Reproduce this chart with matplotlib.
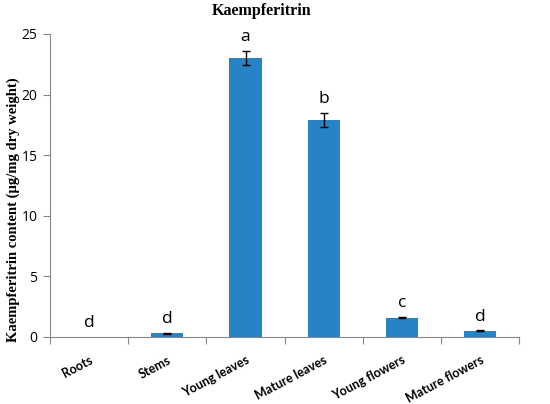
import numpy as np
import matplotlib.pyplot as plt

# data
tissues = ['Roots', 'Stems', 'Young leaves', 'Mature leaves', 'Young flowers', 'Mature flowers']
content = [0.0, 0.3, 23.0, 17.9, 1.6, 0.5]
err = [0.0, 0.03, 0.6, 0.6, 0.05, 0.04]
letters = ['d', 'd', 'a', 'b', 'c', 'd']

fig = plt.figure(figsize=(5.5, 4.04), dpi=100)
ax = fig.add_axes([0.091, 0.166, 0.853, 0.75])

x = np.arange(len(tissues))
ax.bar(x, content, width=0.41, color='#2683c6', zorder=2)
# roots have no measurable content, so no error bar drawn there
has_err = [e > 0 for e in err]
ax.errorbar(x[has_err], np.array(content)[has_err], yerr=np.array(err)[has_err],
            fmt='none', ecolor='black', elinewidth=1.0,
            capsize=3, capthick=1.0, zorder=3)

# significance letters above the error bars
for xi, v, e, l in zip(x, content, err, letters):
    ax.text(xi, v + e + 0.45, l, ha='center', va='bottom', fontsize=12.5,
            family='Open Sans')

ax.set_xlim(-0.5, len(tissues) - 0.5)
ax.set_ylim(0, 25)
ax.set_yticks([0, 5, 10, 15, 20, 25])

# x ticks between categories, labels at centers
ax.set_xticks(np.arange(-0.5, len(tissues)), minor=False)
ax.set_xticklabels([])
ax.set_xticks(x, minor=True)
ax.set_xticklabels(tissues, minor=True, rotation=28, ha='right', va='top',
                   rotation_mode='anchor', fontsize=9, fontweight='bold',
                   family='Lato')
ax.tick_params(axis='x', which='minor', length=0, pad=12)
ax.tick_params(axis='x', which='major', length=5, color='#888888', direction='out')
ax.tick_params(axis='y', length=5, color='#888888', labelsize=10, pad=4)
for lab in ax.get_yticklabels():
    lab.set_family('Open Sans')

for s in ['top', 'right']:
    ax.spines[s].set_visible(False)
for s in ['left', 'bottom']:
    ax.spines[s].set_color('#888888')

fig.text(0.476, 0.973, 'Kaempferitrin', fontsize=11.5, fontweight='bold',
         family='Liberation Serif', ha='center', va='center')
fig.text(0.024, 0.48, 'Kaempferitrin content (µg/mg dry weight)', fontsize=10.5,
         fontweight='bold', family='Liberation Serif', rotation=90,
         ha='center', va='center')

fig.savefig('out.png', dpi=100)
